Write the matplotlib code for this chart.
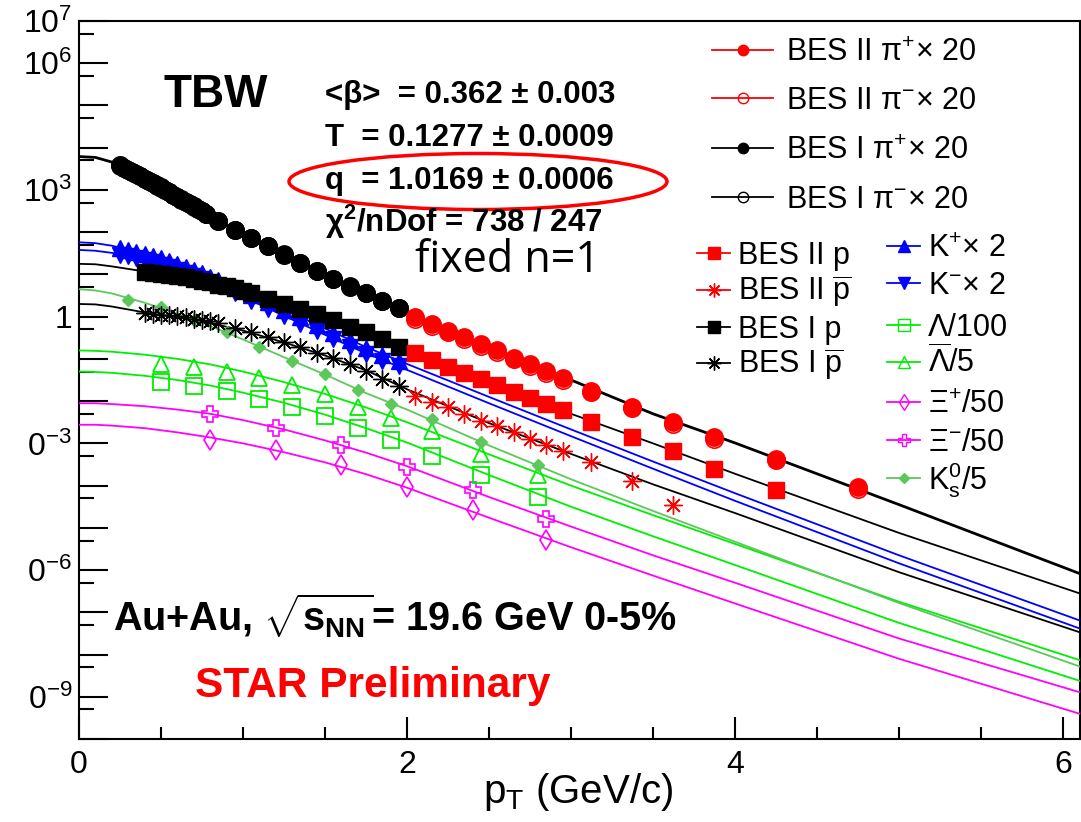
import numpy as np
import matplotlib
matplotlib.use("Agg")
import matplotlib.pyplot as plt
from matplotlib.lines import Line2D
from matplotlib.patches import Ellipse
from matplotlib.ticker import NullFormatter

# ---- data (log10 of dN/dpT readings) ----
# BES I pions (x20)
pi1_pt = [0.25, 0.275, 0.30, 0.325, 0.35, 0.375, 0.40, 0.425, 0.45, 0.475, 0.50,
          0.525, 0.55, 0.575, 0.60, 0.625, 0.65, 0.675, 0.70, 0.725, 0.75, 0.775,
          0.85, 0.95, 1.05, 1.15, 1.25, 1.35, 1.45, 1.55, 1.65, 1.75, 1.85, 1.95]
pip1 = [3.57, 3.52, 3.47, 3.42, 3.37, 3.32, 3.27, 3.21, 3.16, 3.10, 3.05,
        2.99, 2.94, 2.88, 2.83, 2.77, 2.71, 2.66, 2.60, 2.55, 2.49, 2.44,
        2.27, 2.06, 1.87, 1.68, 1.48, 1.28, 1.09, 0.89, 0.72, 0.56, 0.38, 0.21]
pim1 = [3.58, 3.53, 3.48, 3.43, 3.38, 3.33, 3.27, 3.22, 3.17, 3.11, 3.06,
        3.00, 2.95, 2.89, 2.83, 2.78, 2.72, 2.67, 2.61, 2.55, 2.50, 2.44,
        2.26, 2.05, 1.86, 1.67, 1.47, 1.27, 1.08, 0.88, 0.71, 0.55, 0.37, 0.20]
# BES II pions (x20)
pi2_pt = [2.05, 2.15, 2.25, 2.35, 2.45, 2.55, 2.65, 2.75, 2.85, 2.95,
          3.125, 3.375, 3.625, 3.875, 4.25, 4.75]
pip2 = [-0.02, -0.17, -0.33, -0.48, -0.65, -0.80, -0.97, -1.13, -1.29, -1.45,
        -1.75, -2.13, -2.50, -2.86, -3.36, -4.04]
pim2 = [-0.05, -0.21, -0.37, -0.52, -0.69, -0.84, -1.01, -1.17, -1.33, -1.49,
        -1.79, -2.17, -2.54, -2.90, -3.40, -4.08]
# protons
p1_pt = [0.40, 0.45, 0.50, 0.55, 0.60, 0.65, 0.70, 0.75, 0.80, 0.85, 0.90, 0.95,
         1.00, 1.05, 1.15, 1.25, 1.35, 1.45, 1.55, 1.65, 1.75, 1.85, 1.95]
p1 = [1.06, 1.04, 1.02, 0.99, 0.96, 0.93, 0.89, 0.85, 0.81, 0.76, 0.72, 0.67,
      0.61, 0.55, 0.42, 0.31, 0.18, 0.06, -0.09, -0.24, -0.37, -0.53, -0.71]
p2_pt = [2.05, 2.15, 2.25, 2.35, 2.45, 2.55, 2.65, 2.75, 2.85, 2.95,
         3.125, 3.375, 3.625, 3.875, 4.25]
p2 = [-0.87, -1.03, -1.19, -1.34, -1.48, -1.63, -1.78, -1.92, -2.07, -2.22,
      -2.50, -2.86, -3.17, -3.60, -4.11]
# anti-protons
pb1_pt = [0.40, 0.45, 0.50, 0.55, 0.60, 0.65, 0.70, 0.75, 0.80, 0.85,
          0.95, 1.05, 1.15, 1.25, 1.35, 1.45, 1.55, 1.65, 1.75, 1.85, 1.95]
pb1 = [0.09, 0.07, 0.05, 0.03, 0.01, -0.02, -0.05, -0.08, -0.11, -0.15,
       -0.26, -0.37, -0.49, -0.61, -0.73, -0.87, -0.98, -1.12, -1.28, -1.48, -1.64]
pb2_pt = [2.05, 2.15, 2.25, 2.35, 2.45, 2.55, 2.65, 2.75, 2.85, 2.95,
          3.125, 3.375, 3.625]
pb2 = [-1.87, -2.03, -2.14, -2.30, -2.46, -2.58, -2.74, -2.89, -3.03, -3.18,
       -3.44, -3.88, -4.45]
# kaons (x2)
k_pt = [0.25, 0.30, 0.35, 0.40, 0.45, 0.50, 0.55, 0.60, 0.65, 0.70, 0.75, 0.80,
        0.85, 0.95, 1.05, 1.15, 1.25, 1.35, 1.45, 1.55, 1.65, 1.75, 1.85, 1.95]
kp = [1.62, 1.58, 1.54, 1.49, 1.44, 1.38, 1.32, 1.25, 1.18, 1.11, 1.03, 0.95,
      0.87, 0.70, 0.52, 0.34, 0.16, -0.02, -0.20, -0.38, -0.56, -0.74, -0.90, -1.04]
km = [1.47, 1.43, 1.39, 1.34, 1.29, 1.23, 1.17, 1.10, 1.03, 0.96, 0.88, 0.80,
      0.72, 0.55, 0.37, 0.19, 0.01, -0.17, -0.35, -0.53, -0.71, -0.88, -1.04, -1.18]
# strange hadrons
lam_pt = [0.5, 0.7, 0.9, 1.1, 1.3, 1.5, 1.7, 1.9, 2.15, 2.45, 2.8]
lam = [-1.55, -1.65, -1.75, -1.95, -2.14, -2.36, -2.63, -2.91, -3.29, -3.74, -4.27]
alam = [-1.12, -1.20, -1.32, -1.45, -1.63, -1.84, -2.13, -2.40, -2.71, -3.25, -3.76]
xi_pt = [0.8, 1.2, 1.6, 2.0, 2.4, 2.85]
xip = [-2.91, -3.15, -3.52, -4.04, -4.57, -5.30]
xim = [-2.30, -2.63, -3.03, -3.55, -4.11, -4.78]
ks_pt = [0.3, 0.5, 0.7, 0.9, 1.1, 1.3, 1.5, 1.7, 1.9, 2.15, 2.45, 2.8]
ks = [0.39, 0.24, -0.09, -0.37, -0.71, -1.05, -1.36, -1.73, -2.07, -2.43, -2.97, -3.51]

# TBW fit curves, read at these pT values
fit_pt = [0, 0.1, 0.2, 0.4, 0.6, 0.8, 1.0, 1.25, 1.5, 1.75, 2.0, 2.5, 3.0, 3.5, 4.0, 5.0, 6.1]
fit_pi = [3.79, 3.77, 3.66, 3.27, 2.82, 2.37, 1.96, 1.48, 0.99, 0.56, 0.10, -0.72, -1.50, -2.30, -2.99, -4.45, -6.08]
fit_p = [1.25, 1.24, 1.19, 1.07, 0.96, 0.81, 0.61, 0.31, -0.01, -0.37, -0.79, -1.56, -2.30, -3.00, -3.72, -5.12, -6.55]
fit_pb = [0.30, 0.29, 0.24, 0.10, -0.02, -0.15, -0.33, -0.61, -0.92, -1.27, -1.72, -2.52, -3.25, -3.97, -4.65, -6.05, -7.47]
fit_kp = [1.76, 1.74, 1.68, 1.50, 1.26, 0.96, 0.62, 0.17, -0.28, -0.72, -1.12, -1.90, -2.67, -3.43, -4.18, -5.65, -7.19]
fit_km = [1.58, 1.56, 1.51, 1.34, 1.10, 0.81, 0.47, 0.02, -0.43, -0.87, -1.26, -2.05, -2.83, -3.60, -4.36, -5.84, -7.38]
fit_ks = [0.65, 0.62, 0.55, 0.33, 0.07, -0.22, -0.54, -0.96, -1.37, -1.81, -2.20, -3.05, -3.85, -4.60, -5.33, -6.78, -8.28]
fit_alam = [-0.80, -0.81, -0.83, -0.90, -1.00, -1.13, -1.30, -1.55, -1.83, -2.15, -2.50, -3.26, -4.00, -4.70, -5.38, -6.75, -8.13]
fit_lam = [-1.30, -1.31, -1.33, -1.40, -1.50, -1.63, -1.80, -2.04, -2.32, -2.64, -2.98, -3.75, -4.50, -5.20, -5.88, -7.25, -8.62]
fit_xim = [-2.05, -2.05, -2.07, -2.12, -2.20, -2.30, -2.45, -2.67, -2.93, -3.22, -3.54, -4.27, -4.97, -5.65, -6.30, -7.62, -8.89]
fit_xip = [-2.56, -2.56, -2.58, -2.64, -2.74, -2.86, -3.00, -3.21, -3.45, -3.73, -4.05, -4.76, -5.46, -6.13, -6.79, -8.10, -9.40]

ytick_exp = list(range(-10, 8))
ytick_text = {7: "10$^{7}$", 6: "10$^{6}$", 3: "10$^{3}$", 0: "1",
              -3: "0$^{-3}$", -6: "0$^{-6}$", -9: "0$^{-9}$"}

RED, BLUE, GREEN, LGREEN, MAG = "#ff0000", "#0000ff", "#00ee00", "#5cc85c", "#ff00ff"

plt.rcParams["font.family"] = ["Liberation Sans", "DejaVu Sans"]
plt.rcParams["mathtext.fontset"] = "custom"
plt.rcParams["mathtext.rm"] = "Liberation Sans"
plt.rcParams["mathtext.it"] = "Liberation Sans:italic"
plt.rcParams["mathtext.bf"] = "Liberation Sans:bold"

W, H = 1081, 822


def fx(x):
    return x / W


def fy(y):
    return 1 - y / H


def v(a):
    return 10.0 ** np.asarray(a)


fig = plt.figure(figsize=(W / 100, H / 100), dpi=100)
ax = fig.add_axes([fx(79), fy(739), (1080 - 79) / W, (739 - 21) / H])
ax.set_yscale("log")
ax.set_xlim(0, 6.104)
ax.set_ylim(1e-10, 1e7)

# fit curves
for yy, col, lw in [(fit_xip, MAG, 1.3), (fit_xim, MAG, 1.3), (fit_lam, GREEN, 1.3),
                    (fit_alam, GREEN, 1.3), (fit_ks, LGREEN, 1.3), (fit_km, BLUE, 1.3),
                    (fit_kp, BLUE, 1.3), (fit_pb, "black", 1.3), (fit_p, "black", 1.3),
                    (fit_pi, "black", 2.0)]:
    ax.plot(fit_pt, v(yy), color=col, lw=lw, zorder=3)

star = (8, 2, 0)
ax.plot(xi_pt, v(xip), "d", ms=10, mfc="none", mec=MAG, mew=1.2, zorder=4)
ax.plot(xi_pt, v(xim), "P", ms=12, mfc="none", mec=MAG, mew=1.2, zorder=4)
ax.plot(lam_pt, v(lam), "s", ms=11, mfc="none", mec=GREEN, mew=1.3, zorder=4)
ax.plot(lam_pt, v(alam), "^", ms=12, mfc="none", mec=GREEN, mew=1.3, zorder=4)
ax.plot(ks_pt, v(ks), "D", ms=6.5, color=LGREEN, zorder=4)
ax.plot(pb1_pt, v(pb1), ls="none", marker=star, ms=13, mec="black", mew=1.0, zorder=4)
ax.plot(pb2_pt, v(pb2), ls="none", marker=star, ms=13, mec=RED, mew=1.0, zorder=4)
ax.plot(k_pt, v(kp), "^", ms=11, color=BLUE, zorder=4)
ax.plot(k_pt, v(km), "v", ms=11, color=BLUE, zorder=4)
ax.plot(p1_pt, v(p1), "s", ms=11, color="black", zorder=4)
ax.plot(p2_pt, v(p2), "s", ms=11, color=RED, zorder=4)
ax.plot(pi1_pt, v(pim1), "o", ms=12.5, mfc="none", mec="black", mew=1.2, zorder=4)
ax.plot(pi1_pt, v(pip1), "o", ms=12.5, color="black", zorder=4)
ax.plot(pi2_pt, v(pim2), "o", ms=12.5, mfc="none", mec=RED, mew=1.2, zorder=4)
ax.plot(pi2_pt, v(pip2), "o", ms=12.5, color=RED, zorder=4)

# axes styling (ROOT look)
for s in ax.spines.values():
    s.set_linewidth(1.5)
ax.set_xticks([0, 2, 4, 6])
ax.set_xticks(np.arange(0.5, 6.1, 0.5), minor=True)
ax.set_xticklabels(["0", "2", "4", "6"])
ax.set_yticks(10.0 ** np.array(ytick_exp))
ax.set_yticklabels([ytick_text.get(e, "") for e in ytick_exp])
ax.set_yticks(5 * 10.0 ** np.arange(-11, 7, dtype=float), minor=True)
ax.yaxis.set_minor_formatter(NullFormatter())
ax.set_ylim(1e-10, 1e7)
ax.tick_params(axis="both", which="both", direction="in", top=False, right=False,
               width=1.5, labelsize=23)
ax.tick_params(axis="y", which="major", length=21, pad=5)
ax.tick_params(axis="y", which="minor", length=11)
ax.tick_params(axis="x", which="major", length=16, pad=8)
ax.tick_params(axis="x", which="minor", length=8.5)

fig.text(fx(578), fy(792), r"p$_{\mathrm{T}}$ (GeV/c)", fontsize=29, ha="center", va="center")

# annotations
fig.text(fx(163), fy(107), "TBW", fontsize=33, fontweight="bold", va="baseline")
fit_lines = ["<β>  = 0.362 ± 0.003", "T  = 0.1277 ± 0.0009",
             "q  = 1.0169 ± 0.0006", r"χ$^{\mathbf{2}}$/nDof = 738 / 247"]
for txt, yb in zip(fit_lines, [103, 146.5, 189, 231.5]):
    fig.text(fx(325), fy(yb), txt, fontsize=22.5, fontweight="bold", va="baseline")
fig.text(fx(415), fy(271.5), "fixed n=1", fontsize=31, family="Open Sans", va="baseline")
fig.add_artist(Ellipse((fx(478), fy(181.5)), 378 / W, 56 / H, transform=fig.transFigure,
                       fill=False, ec="red", lw=2.5))
fig.text(fx(113), fy(630), r"Au+Au, $\sqrt{\mathbf{s}_{\mathbf{NN}}}$= 19.6 GeV 0-5%",
         fontsize=28.5, fontweight="bold", va="baseline")
fig.text(fx(195), fy(696.5), "STAR Preliminary", fontsize=30.5, fontweight="bold",
         color=RED, va="baseline")


# hand-placed ROOT style legends
def entry(x0, x1, y, col, text, tx, **mk):
    fig.add_artist(Line2D([fx(x0), fx(x1)], [fy(y), fy(y)], color=col, lw=1.3,
                          transform=fig.transFigure))
    fig.add_artist(Line2D([fx((x0 + x1) / 2)], [fy(y)], ls="none", transform=fig.transFigure,
                          **mk))
    fig.text(fx(tx), fy(y + 11), text, fontsize=22, va="baseline")


entry(712, 773, 50, RED, "BES II π$^{+}$× 20", 786, marker="o", ms=7.5, color=RED)
entry(712, 773, 98, RED, "BES II π$^{-}$× 20", 786, marker="o", ms=7.5, mfc="none", mec=RED)
entry(712, 773, 148, "black", "BES I π$^{+}$× 20", 786, marker="o", ms=7.5, color="black")
entry(712, 773, 197, "black", "BES I π$^{-}$× 20", 786, marker="o", ms=7.5, mfc="none", mec="black")

entry(697, 730, 253, RED, "BES II p", 738, marker="s", ms=8, color=RED)
entry(697, 730, 290, RED, r"BES II $\overline{\mathrm{p}}$", 738, marker=star, ms=10, mec=RED, mew=1.0)
entry(697, 730, 327, "black", "BES I p", 738, marker="s", ms=8, color="black")
entry(697, 730, 363, "black", r"BES I $\overline{\mathrm{p}}$", 738, marker=star, ms=10, mec="black", mew=1.0)

entry(887, 920, 246, BLUE, "K$^{+}$× 2", 928, marker="^", ms=8, color=BLUE)
entry(887, 920, 283, BLUE, "K$^{-}$× 2", 928, marker="v", ms=8, color=BLUE)
entry(887, 920, 325, GREEN, "Λ/100", 928, marker="s", ms=8, mfc="none", mec=GREEN)
entry(887, 920, 362, GREEN, r"$\overline{\mathrm{\Lambda}}$/5", 928, marker="^", ms=9, mfc="none", mec=GREEN)
entry(887, 920, 402, MAG, "Ξ$^{+}$/50", 928, marker="d", ms=8, mfc="none", mec=MAG)
entry(887, 920, 440, MAG, "Ξ$^{-}$/50", 928, marker="P", ms=9, mfc="none", mec=MAG)
entry(887, 920, 478, LGREEN, r"K$_{\mathrm{s}}^{0}$/5", 928, marker="D", ms=5, color=LGREEN)

fig.savefig("out.png", dpi=100)
